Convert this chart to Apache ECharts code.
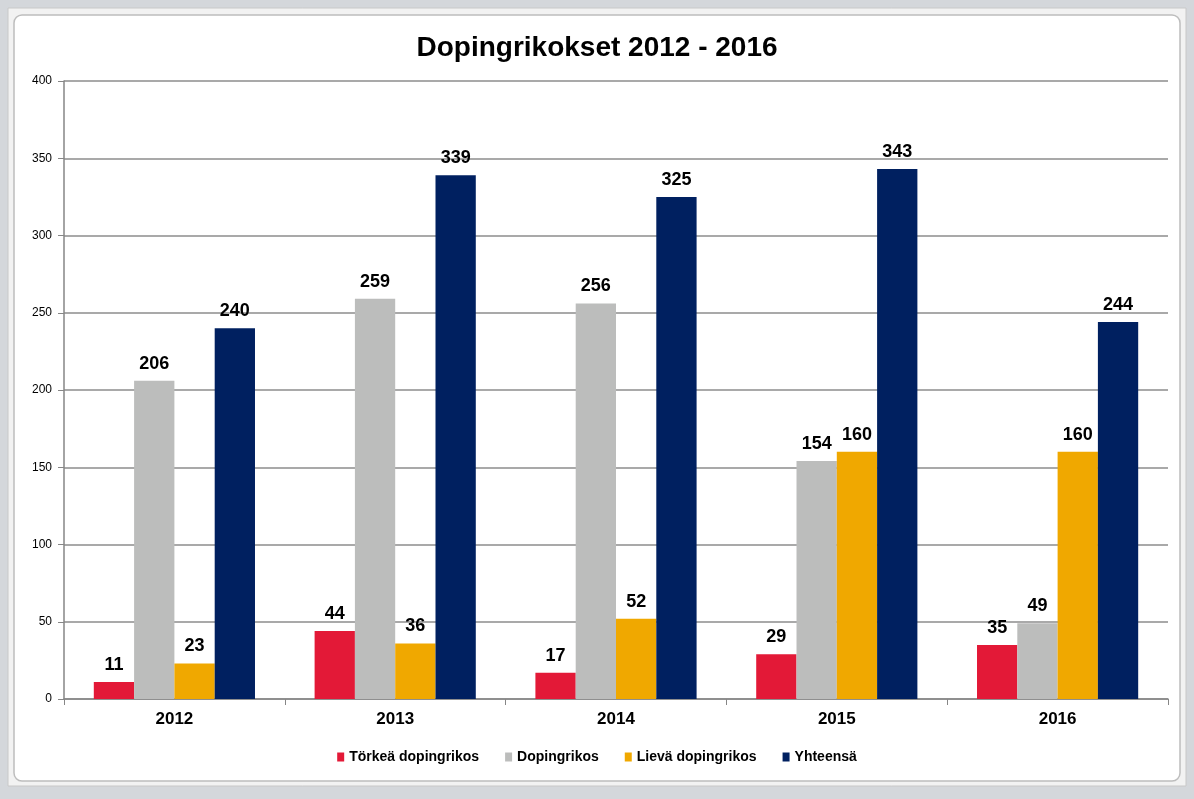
<!DOCTYPE html>
<html>
<head>
<meta charset="utf-8">
<script src="https://cdn.jsdelivr.net/npm/echarts@6/dist/echarts.min.js"></script>
<style>
  html, body { margin: 0; padding: 0; background: #d4d7db; }
  #main { width: 1194px; height: 799px; }
</style>
</head>
<body>
<div id="main"></div>
<script>
// vuodet ja sarjat
var years = ['2012', '2013', '2014', '2015', '2016'];
var torkea = [11, 44, 17, 29, 35];
var doping = [206, 259, 256, 154, 49];
var lieva = [23, 36, 52, 160, 160];
var yhteensa = [240, 339, 325, 343, 244];

var myChart = echarts.init(document.getElementById('main'));

var labelStyle = {
  show: true,
  position: 'top',
  distance: 8,
  fontFamily: 'Liberation Sans, Arial',
  fontWeight: 'bold',
  fontSize: 18,
  color: '#000'
};

function bar(name, data, color) {
  return {
    name: name,
    type: 'bar',
    data: data,
    barGap: '0%',
    barCategoryGap: '27%',
    itemStyle: { color: color },
    label: labelStyle
  };
}

var option = {
  backgroundColor: '#d4d7db',
  animation: false,
  graphic: [
    // ikkunan kehys
    { type: 'rect', shape: { x: 8, y: 8, width: 1178, height: 778 },
      style: { fill: '#f2f2f2', stroke: '#c8c8c8', lineWidth: 1 }, z: -10 },
    { type: 'rect', shape: { x: 14, y: 15, width: 1166, height: 766, r: 8 },
      style: { fill: '#fff', stroke: '#bdbdbd', lineWidth: 1.5 }, z: -9 }
  ],
  title: {
    text: 'Dopingrikokset 2012 - 2016',
    left: 'center',
    top: 29,
    textStyle: { fontFamily: 'Liberation Sans, Arial', fontWeight: 'bold', fontSize: 28, color: '#000' }
  },
  legend: {
    bottom: 30,
    left: 'center',
    itemWidth: 7,
    itemHeight: 9,
    itemGap: 26,
    icon: 'rect',
    textStyle: { fontFamily: 'Liberation Sans Narrow, Liberation Sans, Arial', fontWeight: 'bold', fontSize: 14, color: '#000' }
  },
  grid: { left: 64, right: 26, top: 81, bottom: 100 },
  xAxis: {
    type: 'category',
    data: years,
    axisLine: { lineStyle: { color: '#868686', width: 1.5 } },
    axisTick: { show: true, length: 6, lineStyle: { color: '#868686' } },
    axisLabel: { fontFamily: 'Liberation Sans, Arial', fontWeight: 'bold', fontSize: 17, color: '#000', margin: 12 }
  },
  yAxis: {
    type: 'value',
    min: 0,
    max: 400,
    interval: 50,
    axisLine: { show: true, lineStyle: { color: '#868686', width: 1.5 } },
    axisTick: { show: true, length: 6, lineStyle: { color: '#868686' } },
    axisLabel: { fontFamily: 'Liberation Sans, Arial', fontSize: 12, color: '#000', margin: 12 },
    splitLine: { lineStyle: { color: '#8c8c8c', width: 1.5 } }
  },
  series: [
    bar('Törkeä dopingrikos', torkea, '#e31937'),
    bar('Dopingrikos', doping, '#bcbdbc'),
    bar('Lievä dopingrikos', lieva, '#f0a800'),
    bar('Yhteensä', yhteensa, '#002060')
  ]
};

myChart.setOption(option);
</script>
</body>
</html>
